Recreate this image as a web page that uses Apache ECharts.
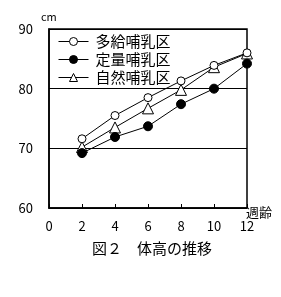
<!DOCTYPE html>
<html><head><meta charset="utf-8">
<script src="https://cdn.jsdelivr.net/npm/echarts@6/dist/echarts.min.js"></script>
<style>html,body{margin:0;padding:0;background:#fff}#c{width:281px;height:297px}</style>
</head><body><div id="c"></div>
<script>
const weeks = [2, 4, 6, 8, 10, 12];
const seriesNames = ['多給哺乳区', '定量哺乳区', '自然哺乳区'];
const tako = [71.6, 75.5, 78.5, 81.3, 83.9, 86.0];
const teiryo = [69.2, 71.9, 73.7, 77.4, 80.0, 84.2];
const shizen = [70.2, 73.5, 76.7, 79.8, 83.6, 85.9];
const xTicks = [0, 2, 4, 6, 8, 10, 12];
const yTicks = [60, 70, 80, 90];

const font = '"Noto Sans CJK JP", sans-serif';
const chart = echarts.init(document.getElementById('c'), null, {renderer: 'canvas'});
function pairs(vals){ return weeks.map((w,i)=>[w, vals[i]]); }
const lineStyle = {color:'#000', width:1};
chart.setOption({
  animation: false,
  backgroundColor: '#fff',
  grid: {left: 49, top: 29, width: 198, height: 179, show: true, borderColor: '#000', borderWidth: 1.5},
  xAxis: {type: 'value', min: 0, max: 12, interval: 2,
    axisLine: {lineStyle: {color: '#000', width: 1.5}},
    axisTick: {inside: true, length: 4, lineStyle: {color: '#000'}},
    axisLabel: {color: '#000', fontSize: 13, fontFamily: font, margin: 12},
    splitLine: {show: false}},
  yAxis: {type: 'value', min: 60, max: 90, interval: 10,
    axisLine: {show: true, lineStyle: {color: '#000', width: 1.5}},
    axisTick: {show: false},
    axisLabel: {color: '#000', fontSize: 13, fontFamily: font, margin: 16},
    splitLine: {show: true, lineStyle: {color: '#000', width: 1}}},
  legend: {orient: 'vertical', left: 53, top: 29, itemWidth: 30, itemHeight: 10, itemGap: 3,
    lineStyle: {width: 1, color: '#000'},
    itemStyle: {borderWidth: 1},
    textStyle: {color: '#000', fontSize: 15, fontFamily: font, padding: [0,0,0,2]},
    data: seriesNames},
  series: [
    {name: seriesNames[0], type: 'line', data: pairs(tako), symbol: 'circle', symbolSize: 8,
     itemStyle: {color: '#fff', borderColor: '#000', borderWidth: 1}, lineStyle: lineStyle, z: 3},
    {name: seriesNames[1], type: 'line', data: pairs(teiryo), symbol: 'circle', symbolSize: 9,
     itemStyle: {color: '#000', borderColor: '#000', borderWidth: 1}, lineStyle: lineStyle, z: 4},
    {name: seriesNames[2], type: 'line', data: pairs(shizen), symbol: 'triangle', symbolSize: 11,
     itemStyle: {color: '#fff', borderColor: '#000', borderWidth: 1}, lineStyle: lineStyle, z: 2}
  ],
  graphic: [
    {type: 'text', left: 41, top: 11, style: {text: 'cm', fontSize: 11, fontFamily: font, fill: '#000'}},
    {type: 'text', left: 246, top: 206, style: {text: '週齢', fontSize: 13, fontFamily: font, fill: '#000'}},
    {type: 'text', left: 92, top: 241, style: {text: '図２　体高の推移', fontSize: 15, fontFamily: font, fill: '#000'}}
  ]
});
</script></body></html>
